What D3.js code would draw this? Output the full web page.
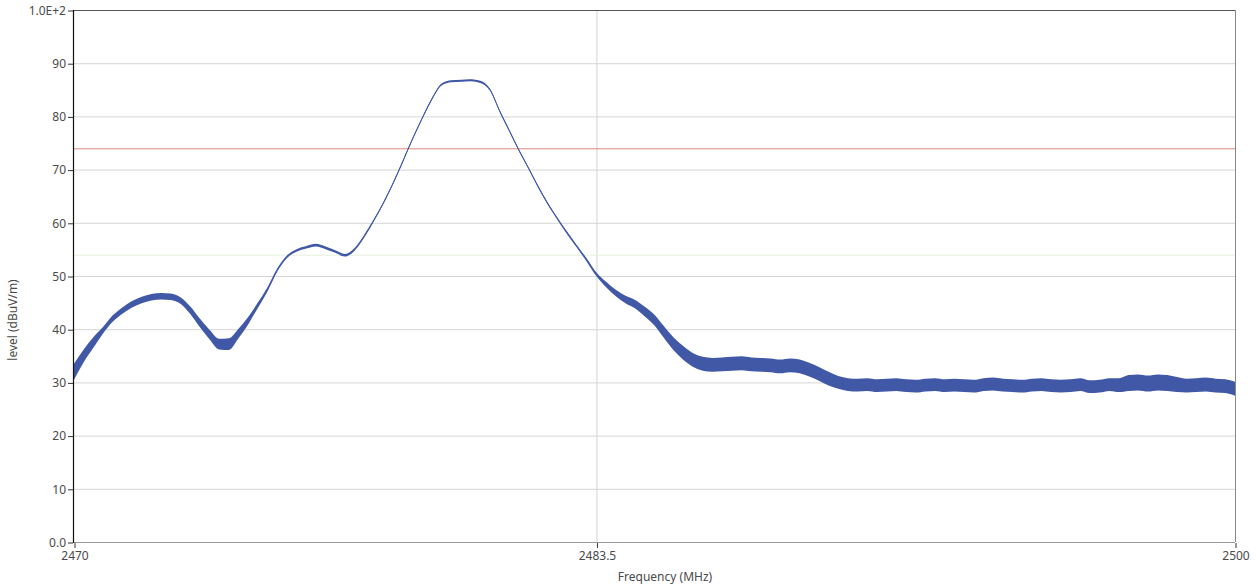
<html>
<head>
  <title>Spectrum scan</title>
  <meta charset="utf-8" />
  <script src="https://cdnjs.cloudflare.com/ajax/libs/d3/7.8.5/d3.min.js"></script>
  <style>
    body { margin: 0; background: #fff; }
    text { font-family: "Noto Sans", "DejaVu Sans", sans-serif; font-size: 12px; fill: #4a4a4a; }
    .axis path.domain { stroke: none; }
    .axis .tick line { stroke: #333; }
  </style>
</head>
<body>
  <svg></svg>
  <script>
    // sweep 2470 - 2500 MHz, one reading every 0.25 MHz
    const freqStart = 2470
    const freqStep = 0.25

    // mean level (dBuV/m)
    const level = [
      32.0, 35.0, 37.5, 39.8, 42.0, 43.5, 44.7, 45.5, 46.0, 46.2,
      46.1, 45.4, 43.6, 41.2, 39.0, 37.2, 37.2, 39.2, 41.6, 44.5,
      47.5, 51.1, 53.6, 54.8, 55.4, 55.8, 55.3, 54.6, 53.9, 55.0,
      57.5, 60.5, 63.8, 67.5, 71.6, 75.8, 79.7, 83.3, 86.0, 86.6,
      86.7, 86.8, 86.5, 85.0, 81.0, 77.3, 73.6, 70.2, 66.7, 63.5,
      60.7, 58.0, 55.5, 53.0, 50.3, 48.4, 46.8, 45.6, 44.7, 43.3,
      41.7, 39.4, 37.2, 35.5, 34.2, 33.5, 33.3, 33.4, 33.5, 33.6,
      33.4, 33.3, 33.2, 33.0, 33.2, 33.0, 32.4, 31.6, 30.7, 30.0,
      29.6, 29.5, 29.6, 29.4, 29.5, 29.6, 29.4, 29.3, 29.5, 29.6,
      29.4, 29.5, 29.4, 29.3, 29.6, 29.7, 29.5, 29.4, 29.3, 29.5,
      29.6, 29.4, 29.3, 29.4, 29.6, 29.2, 29.3, 29.6, 29.5, 29.9,
      30.0, 29.8, 30.0, 29.9, 29.6, 29.4, 29.5, 29.6, 29.4, 29.3,
      28.8
    ]

    // half width of the noise band around the mean (dB)
    const noise = [
      1.5, 1.2, 1.0, 0.6, 0.6, 0.6, 0.6, 0.6, 0.6, 0.6,
      0.6, 0.6, 0.7, 0.8, 0.9, 1.0, 1.1, 0.9, 0.7, 0.5,
      0.4, 0.3, 0.25, 0.25, 0.25, 0.25, 0.25, 0.25, 0.25, 0.25,
      0.25, 0.2, 0.2, 0.2, 0.2, 0.2, 0.2, 0.2, 0.2, 0.2,
      0.2, 0.2, 0.2, 0.2, 0.2, 0.2, 0.2, 0.2, 0.2, 0.2,
      0.2, 0.25, 0.25, 0.3, 0.35, 0.5, 0.6, 0.7, 0.8, 0.9,
      1.0, 1.1, 1.2, 1.3, 1.3, 1.3, 1.3, 1.3, 1.3, 1.3,
      1.3, 1.3, 1.3, 1.3, 1.3, 1.3, 1.3, 1.3, 1.3, 1.2,
      1.2, 1.2, 1.2, 1.2, 1.2, 1.2, 1.2, 1.2, 1.2, 1.2,
      1.2, 1.2, 1.2, 1.2, 1.2, 1.2, 1.2, 1.2, 1.2, 1.2,
      1.2, 1.2, 1.2, 1.2, 1.2, 1.2, 1.2, 1.2, 1.3, 1.5,
      1.5, 1.5, 1.5, 1.5, 1.4, 1.3, 1.3, 1.3, 1.3, 1.3,
      1.3
    ]

    const xTicks = [2470, 2483.5, 2500]
    const yTicks = [0, 10, 20, 30, 40, 50, 60, 70, 80, 90, 100]
    const limitLine = 74     // red limit
    const refLine = 54       // faint green reference

    const width = 1256, height = 588
    const margin = { top: 10, right: 21, bottom: 46, left: 74 }

    const svg = d3.select("svg")
      .attr("width", width)
      .attr("height", height)

    const x = d3.scaleLinear()
      .domain([2470, 2500])
      .range([margin.left, width - margin.right])

    const y = d3.scaleLinear()
      .domain([0, 100])
      .range([height - margin.bottom, margin.top])

    const data = level.map((v, i) => ({
      f: freqStart + i * freqStep,
      v: v,
      n: noise[i]
    }))

    // horizontal grid
    svg.append("g")
      .selectAll("line")
      .data(yTicks.filter(d => d > 0 && d < 100))
      .enter()
      .append("line")
        .attr("x1", x.range()[0])
        .attr("x2", x.range()[1])
        .attr("y1", d => y(d) + 0.5)
        .attr("y2", d => y(d) + 0.5)
        .style("stroke", "#d6d6d6")

    // vertical grid at band edge
    svg.append("line")
      .attr("x1", x(2483.5) + 0.5)
      .attr("x2", x(2483.5) + 0.5)
      .attr("y1", y(100))
      .attr("y2", y(0))
      .style("stroke", "#d3d3d3")

    // reference + limit lines
    svg.append("line")
      .attr("x1", x.range()[0]).attr("x2", x.range()[1])
      .attr("y1", y(refLine) + 0.5).attr("y2", y(refLine) + 0.5)
      .style("stroke", "#e6f1dc")
    svg.append("line")
      .attr("x1", x.range()[0]).attr("x2", x.range()[1])
      .attr("y1", y(limitLine) + 0.5).attr("y2", y(limitLine) + 0.5)
      .style("stroke", "#d98a7e")

    // noise band
    const band = d3.area()
      .x(d => x(d.f))
      .y0(d => y(d.v - d.n))
      .y1(d => y(d.v + d.n))
      .curve(d3.curveMonotoneX)

    svg.append("path")
      .datum(data)
      .attr("d", band)
      .style("fill", "#4058a6")

    // trace
    const line = d3.line()
      .x(d => x(d.f))
      .y(d => y(d.v))
      .curve(d3.curveMonotoneX)

    svg.append("path")
      .datum(data)
      .attr("d", line)
      .style("fill", "none")
      .style("stroke", "#4058a6")
      .style("stroke-width", 1)

    // frame: top + right grey, bottom grey, left black
    svg.append("line")
      .attr("x1", x.range()[0]).attr("x2", x.range()[1])
      .attr("y1", y(100) + 0.5).attr("y2", y(100) + 0.5)
      .style("stroke", "#555")
    svg.append("line")
      .attr("x1", x.range()[1] + 0.5).attr("x2", x.range()[1] + 0.5)
      .attr("y1", y(100)).attr("y2", y(0))
      .style("stroke", "#888")
    svg.append("line")
      .attr("x1", x.range()[0]).attr("x2", x.range()[1])
      .attr("y1", y(0) + 0.5).attr("y2", y(0) + 0.5)
      .style("stroke", "#999")
    svg.append("line")
      .attr("x1", x.range()[0] - 0.5).attr("x2", x.range()[0] - 0.5)
      .attr("y1", y(100)).attr("y2", y(0) + 1)
      .style("stroke", "#111")
      .style("stroke-width", 1.2)

    // axes
    svg.append("g")
      .attr("class", "axis")
      .attr("transform", `translate(${margin.left - 1},0.5)`)
      .call(d3.axisLeft(y)
        .tickValues(yTicks)
        .tickSize(5)
        .tickPadding(2)
        .tickFormat(d => d === 0 ? "0.0" : d === 100 ? "1.0E+2" : d))

    svg.append("g")
      .attr("class", "axis")
      .attr("transform", `translate(0.5,${height - margin.bottom + 1})`)
      .call(d3.axisBottom(x)
        .tickValues(xTicks)
        .tickSize(5)
        .tickPadding(3)
        .tickFormat(d => d))

    // titles
    svg.append("text")
      .attr("x", 665)
      .attr("y", 581)
      .attr("text-anchor", "middle")
      .text("Frequency (MHz)")

    svg.append("text")
      .attr("transform", "translate(17,320) rotate(-90)")
      .attr("text-anchor", "middle")
      .text("level (dBuV/m)")
  </script>
</body>
</html>
